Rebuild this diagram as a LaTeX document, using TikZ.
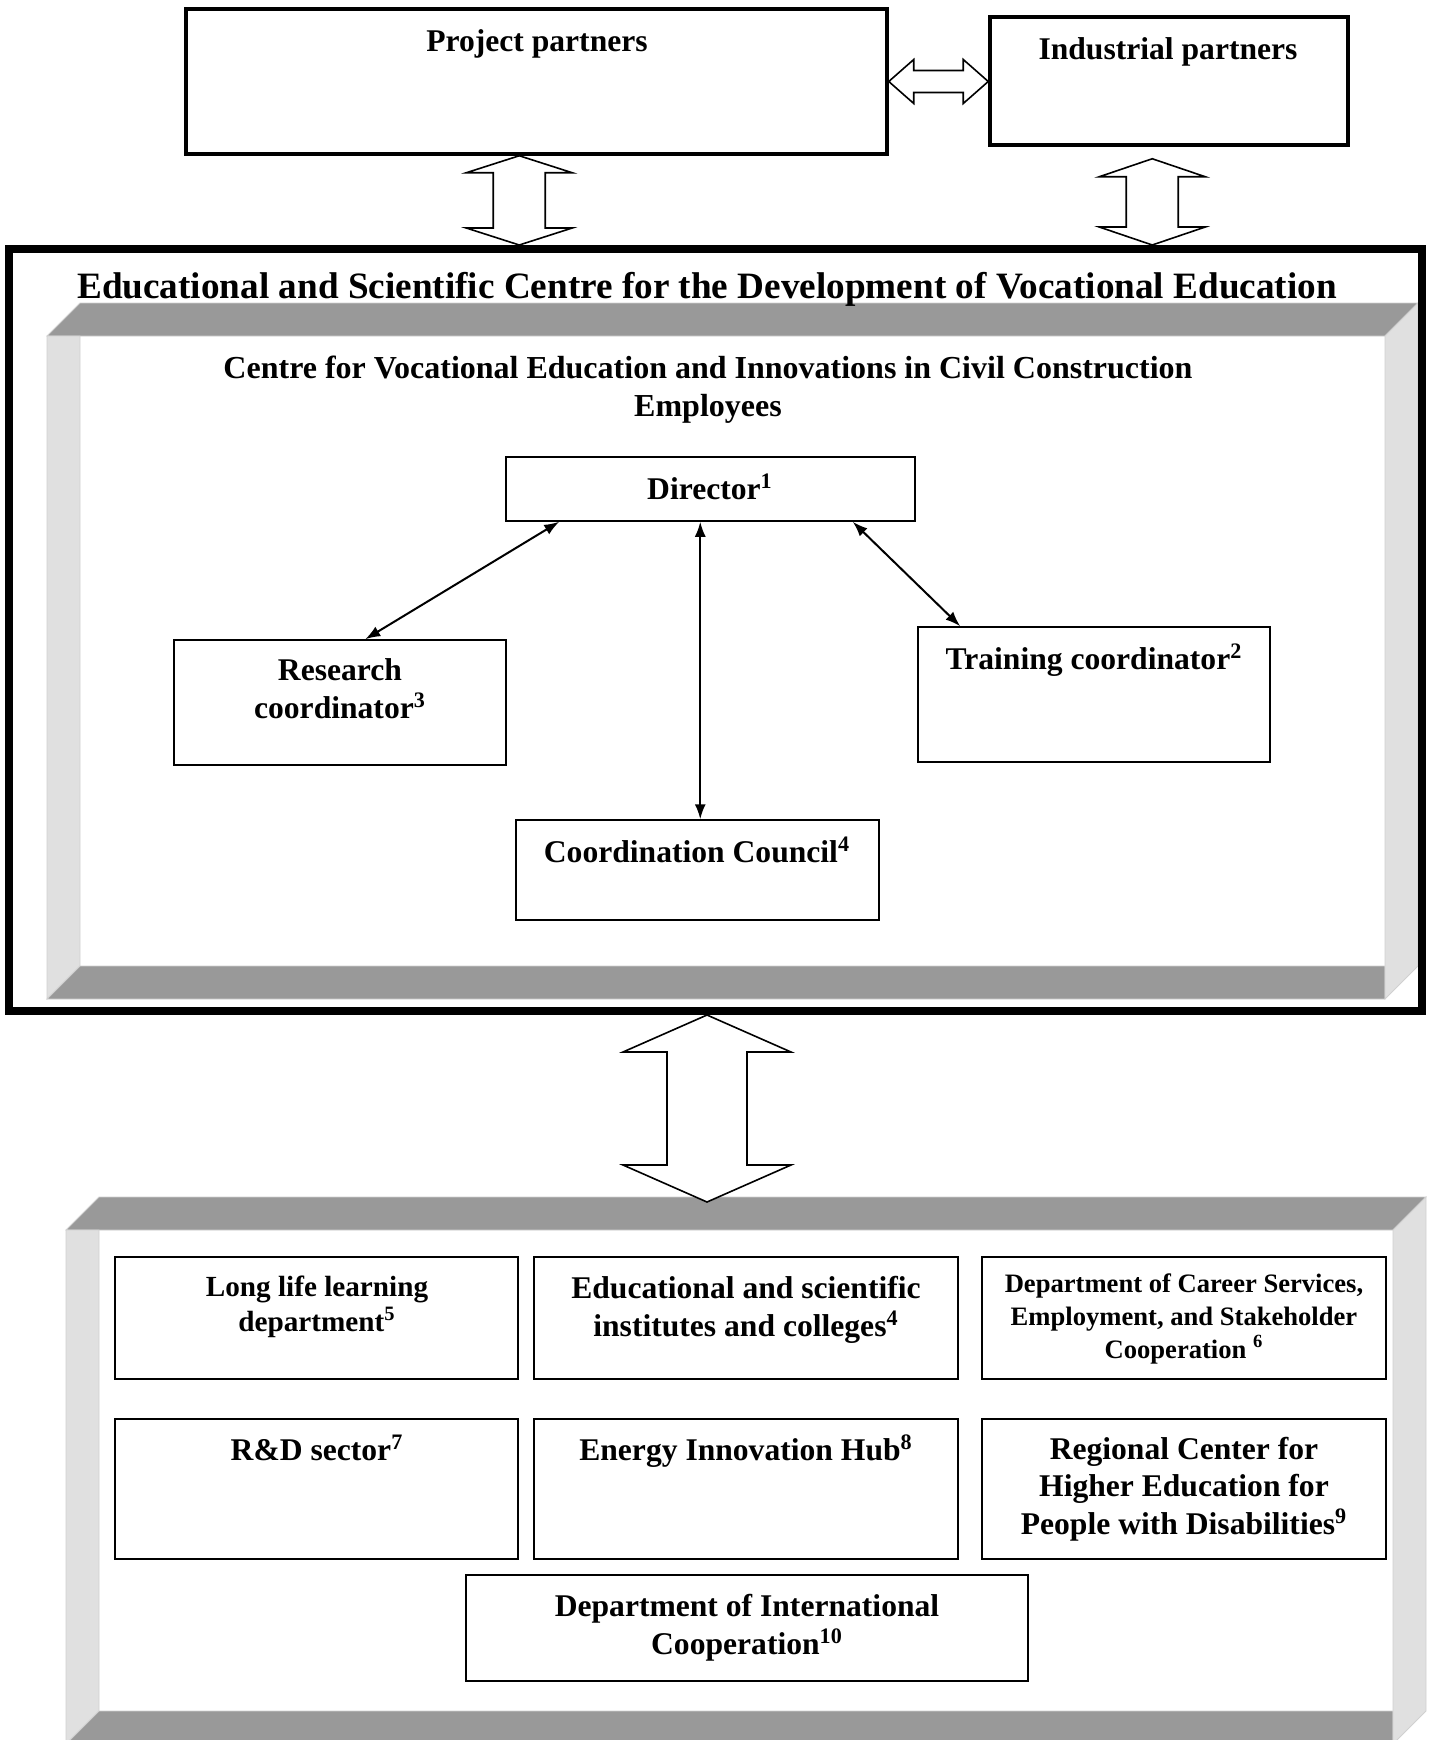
\documentclass[tikz,border=0pt]{standalone}
\usepackage{fontspec}
\setmainfont{Liberation Serif}
\usetikzlibrary{calc,fit,arrows.meta}

\definecolor{bandDark}{HTML}{999999}
\definecolor{bandLight}{HTML}{E0E0E0}
\definecolor{bandLine}{HTML}{D0D0D0}

\tikzset{
 partnerbox/.style={draw, line width=1.75pt, inner sep=0pt},
 unitbox/.style={draw, line width=0.75pt, inner sep=0pt},
 deptbox/.style={draw, line width=1pt, inner sep=0pt},
 lbl/.style={font=\bfseries\fontsize{15.8}{18.6}\selectfont, align=center, inner sep=0pt, anchor=base},
 link/.style={line width=1pt, {Latex[length=7.5pt,width=5.5pt]}-{Latex[length=7.5pt,width=5.5pt]}},
 blockarrow/.style={draw, fill=white, line width=0.8pt, line join=miter},
 band/.style={draw=bandLine, line width=0.4pt},
}

% vertical double block arrow: top tip, bottom tip, shaft, head, head length
\newcommand\vdarrow[5]{
\draw[blockarrow] (#1) -- ($(#1)+(#4,#5)$) -- ($(#1)+(#3,#5)$) -- ($(#2)+(#3,-#5)$)
 -- ($(#2)+(#4,-#5)$) -- (#2) -- ($(#2)+(-#4,-#5)$) -- ($(#2)+(-#3,-#5)$)
 -- ($(#1)+(-#3,#5)$) -- ($(#1)+(-#4,#5)$) -- cycle;}
% horizontal double block arrow: left tip, right tip, shaft, head, head length
\newcommand\hdarrow[5]{
\draw[blockarrow] (#1) -- ($(#1)+(#5,-#4)$) -- ($(#1)+(#5,-#3)$) -- ($(#2)+(-#5,-#3)$)
 -- ($(#2)+(-#5,-#4)$) -- (#2) -- ($(#2)+(-#5,#4)$) -- ($(#2)+(-#5,#3)$)
 -- ($(#1)+(#5,#3)$) -- ($(#1)+(#5,#4)$) -- cycle;}
% shaded frame: x0, y0, x1, y1
\newcommand\bevelframe[4]{
\filldraw[band, fill=bandDark] (#1+33,#2) -- (#3,#2) -- (#3-33,#2+33) -- (#1,#2+33) -- cycle;
\filldraw[band, fill=bandLight] (#1,#2+33) -- (#1+33,#2+33) -- (#1+33,#4-33) -- (#1,#4) -- cycle;
\filldraw[band, fill=bandDark] (#1+33,#4-33) -- (#3-33,#4-33) -- (#3-33,#4) -- (#1,#4) -- cycle;
\filldraw[band, fill=bandLight] (#3-33,#2+33) -- (#3,#2) -- (#3,#4-33) -- (#3-33,#4) -- cycle;}

\begin{document}
\begin{tikzpicture}[x=0.5pt,y=-0.5pt]
\useasboundingbox (0,0) rectangle (1431,1740);
\clip (0,0) rectangle (1431,1740);

% partners
\node[partnerbox, fit={(186,9) (887,154)}] (pp) {};
\node[partnerbox, fit={(990,17) (1348,145)}] (ip) {};
\node[lbl] (ppt) at (537,51) {Project partners};
\node[lbl] (ipt) at (1168,59) {Industrial partners};

% centre
\bevelframe{47}{303}{1418}{999}
\node[draw, line width=4pt, inner sep=0pt, fit={(9,249) (1422,1011)}] (ctr) {};
\node[lbl, font=\bfseries\fontsize{18.6}{22}\selectfont] (ctrt) at (707,298)
 {Educational and Scientific Centre for the Development of Vocational Education};
\node[lbl, font=\bfseries\fontsize{16}{19}\selectfont] (cvet) at (708,416)
 {Centre for Vocational Education and Innovations in Civil Construction\\Employees};

\node[unitbox, fit={(506,457) (915,521)}] (dir) {};
\node[unitbox, fit={(174,640) (506,765)}] (res) {};
\node[unitbox, fit={(918,627) (1270,762)}] (trn) {};
\node[unitbox, fit={(516,820) (879,920)}] (cc) {};
\node[lbl] (dirt) at (710,499) {Director\textsuperscript{1}};
\node[lbl] (rest) at (340,718) {Research\\coordinator\textsuperscript{3}};
\node[lbl] (trnt) at (1094,669) {Training coordinator\textsuperscript{2}};
\node[lbl] (cct) at (697,862) {Coordination Council\textsuperscript{4}};

\draw[link] ($(dir.south west)+(54,0)$) -- ($(res.north west)+(192,0)$);
\draw[link] ($(dir.south west)+(195,0)$) -- ($(cc.north west)+(185,0)$);
\draw[link] ($(dir.south east)+(-63,0)$) -- ($(trn.north west)+(43,0)$);

% departments
\bevelframe{66}{1197}{1426}{1744}
\node[deptbox, fit={(115,1257) (518,1379)}] (lll) {};
\node[deptbox, fit={(534,1257) (958,1379)}] (esi) {};
\node[deptbox, fit={(982,1257) (1386,1379)}] (dcs) {};
\node[deptbox, fit={(115,1419) (518,1559)}] (rnd) {};
\node[deptbox, fit={(534,1419) (958,1559)}] (eih) {};
\node[deptbox, fit={(982,1419) (1386,1559)}] (rcd) {};
\node[deptbox, fit={(466,1575) (1028,1681)}] (dic) {};
\node[lbl, font=\bfseries\fontsize{14.6}{17.5}\selectfont] (lllt) at (317,1331) {Long life learning\\department\textsuperscript{5}};
\node[lbl, font=\bfseries\fontsize{15.8}{19}\selectfont] (esit) at (746,1336) {Educational and scientific\\institutes and colleges\textsuperscript{4}};
\node[lbl, font=\bfseries\fontsize{13.3}{16.5}\selectfont] (dcst) at (1184,1358) {Department of Career Services,\\Employment, and Stakeholder\\Cooperation \textsuperscript{6}};
\node[lbl] (rndt) at (317,1460) {R\&D sector\textsuperscript{7}};
\node[lbl] (eiht) at (746,1460) {Energy Innovation Hub\textsuperscript{8}};
\node[lbl] (rcdt) at (1184,1534) {Regional Center for\\Higher Education for\\People with Disabilities\textsuperscript{9}};
\node[lbl, font=\bfseries\fontsize{15.8}{19}\selectfont] (dict) at (747,1654) {Department of International\\Cooperation\textsuperscript{10}};

% block arrows
\coordinate (pa) at ($(pp.south west)+(335,0)$);
\coordinate (pb) at (pa |- ctr.north);
\coordinate (ia) at ($(ip.south west)+(164,12)$);
\coordinate (ib) at (ia |- ctr.north);
\coordinate (ma) at ($(ctr.south)+(-8.5,0)$);
\coordinate (mb) at (707,1202);
\hdarrow{pp.east}{ip.west |- pp.east}{11}{22}{25}
\vdarrow{pa}{pb}{26}{53}{17}
\vdarrow{ia}{ib}{26}{53}{18}
\vdarrow{ma}{mb}{40}{84}{37}
\end{tikzpicture}
\end{document}
